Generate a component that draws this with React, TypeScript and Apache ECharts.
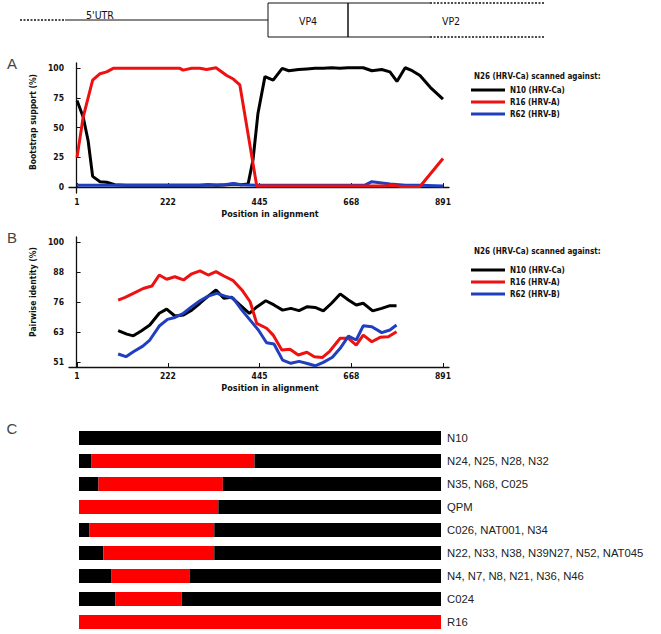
import React, { useEffect, useRef } from "react";
import * as echarts from "echarts";

const xTicks = [1, 222, 445, 668, 891];
const bootTicks = [0, 25, 50, 75, 100];
const identTicks = [51, 63.25, 75.5, 87.75, 100];

const seriesNames = ["N10 (HRV-Ca)", "R16 (HRV-A)", "R62 (HRV-B)"];
const seriesColors = ["#000000", "#ee1111", "#1f3fbf"];
const legendHeader = "N26 (HRV-Ca) scanned against:";

const bootN10 = [[1,73],[16,59],[28,39],[39,9],[57,4.5],[73,4],[93,2],[120,1.5],[300,1.5],[320,2],[340,1.5],[366,2],[381,2.5],[400,2],[417,2.5],[429,23],[441,62],[458,93],[478,90],[500,100],[516,98],[540,99],[560,99.5],[580,100],[600,100],[620,100.5],[640,100],[660,100.5],[697,100.5],[718,98],[742,99],[762,97],[779,89],[799,100.5],[816,98],[835,94],[860,84],[891,74]];
const bootR16 = [[1,25],[16,59],[39,90],[57,95.5],[73,97],[89,100],[150,100],[251,100],[259,98.5],[280,100],[300,100],[316,99],[339,100.5],[365,94],[381,91],[397,86],[438,1],[600,1],[750,1],[770,1.5],[790,0.5],[835,0.5],[891,24]];
const bootR62 = [[1,1.5],[100,1.5],[200,1.5],[300,1.5],[360,2],[381,3],[400,2],[438,1.5],[600,1.5],[700,1.5],[718,4.5],[742,3.5],[762,2.5],[800,1.5],[835,1.5],[891,1]];

const identN10 = [[101,63.8],[122,62.4],[138,61.7],[158,63.8],[178,66.1],[201,70.9],[219,72.6],[239,69.8],[260,70.2],[280,72.2],[300,75],[320,77.9],[339,80.4],[358,77],[377,77.4],[397,74.3],[420,70.9],[439,73.6],[460,76],[480,74.3],[501,72.2],[521,72.9],[541,72],[561,73.6],[580,73.3],[600,71.9],[620,75],[641,78.8],[661,76.3],[680,74.3],[697,75],[720,71.9],[742,72.9],[762,74],[778,74]];
const identR16 = [[101,76.3],[118,77.4],[138,79],[162,81],[183,82],[201,86.5],[219,84.8],[239,85.8],[260,84.5],[280,87],[300,88.2],[320,86.5],[339,87.9],[357,86.2],[381,84.2],[402,80.4],[422,75.6],[438,66.8],[462,64.8],[478,62],[499,55.9],[519,56.2],[539,53.9],[560,55],[578,53.2],[598,52.9],[616,55.5],[641,60.7],[661,60.7],[680,57.9],[697,62],[718,59.3],[738,61.1],[758,61.3],[778,63.4]];
const identR62 = [[101,54.3],[120,53.2],[138,55.2],[161,57.5],[178,60],[201,65.7],[221,68.4],[239,69.2],[260,70.9],[280,73.6],[300,76],[320,77.9],[341,79],[361,77.9],[381,77],[402,72.2],[422,68.1],[442,64.1],[462,58.9],[480,58.4],[501,51.8],[521,50.5],[541,51.3],[561,50.4],[580,49.5],[600,50.9],[622,53],[641,56.6],[661,61.6],[680,60],[697,65.8],[718,65.4],[742,63],[762,64.1],[778,66.1]];

const recombNames = ["N10", "N24, N25, N28, N32", "N35, N68, C025", "QPM", "C026, NAT001, N34", "N22, N33, N38, N39N27, N52, NAT045", "N4, N7, N8, N21, N36, N46", "C024", "R16"];
const redFrom = [0, 31, 48, 0, 25, 60, 79, 90, 0];
const redTo = [0, 432, 354, 343, 333, 333, 272, 253, 891];
const alignLength = 891;

const NARROW = "'Liberation Sans Narrow', 'DejaVu Sans Condensed', Arial, sans-serif";
const SANS = "'Liberation Sans', Arial, sans-serif";

function lineSeries(name: string, color: string, data: number[][], idx: number, z: number) {
  return {
    type: "line",
    name,
    data,
    xAxisIndex: idx,
    yAxisIndex: idx,
    symbol: "none",
    z,
    lineStyle: { color, width: 3 },
    itemStyle: { color },
  };
}

function valueXAxis(idx: number) {
  return {
    type: "value",
    gridIndex: idx,
    min: -18.5,
    max: 905.6,
    axisLine: { show: true, lineStyle: { color: "#111", width: 1.3 } },
    axisTick: { show: true, inside: true, length: 4, customValues: xTicks, lineStyle: { color: "#111" } },
    axisLabel: {
      customValues: xTicks,
      formatter: (v: number) => String(Math.round(v)),
      fontSize: 8.5,
      fontWeight: "bold",
      fontFamily: NARROW,
      color: "#111",
      margin: 4,
    },
    splitLine: { show: false },
    name: "Position in alignment",
    nameLocation: "middle",
    nameGap: 16,
    nameTextStyle: { fontSize: 9, fontWeight: "bold", fontFamily: NARROW, color: "#111", padding: [0, 0, 0, 22] },
  };
}

function valueYAxis(idx: number, min: number, max: number, ticks: number[], name: string, shift: number) {
  return {
    type: "value",
    gridIndex: idx,
    min,
    max,
    axisLine: { show: true, lineStyle: { color: "#111", width: 1.3 } },
    axisTick: { show: true, inside: true, length: 4, customValues: ticks, lineStyle: { color: "#111" } },
    axisLabel: {
      customValues: ticks,
      formatter: (v: number) => String(Math.round(v)),
      fontSize: 8.5,
      fontWeight: "bold",
      fontFamily: NARROW,
      color: "#111",
      margin: 5,
    },
    splitLine: { show: false },
    name,
    nameLocation: "middle",
    nameGap: 22,
    nameTextStyle: { fontSize: 8.5, fontWeight: "bold", fontFamily: NARROW, color: "#111", padding: [0, 0, 0, shift] },
  };
}

function legendAt(top: number) {
  return {
    data: seriesNames,
    orient: "vertical",
    left: 471,
    top,
    padding: 0,
    itemGap: 2,
    itemWidth: 34,
    itemHeight: 3,
    icon: "rect",
    selectedMode: false,
    textStyle: { fontSize: 8, fontWeight: "bold", fontFamily: NARROW, color: "#111", lineHeight: 10 },
  };
}

function text(x: number, y: number, t: string, style: any) {
  return { type: "text", x, y, style: { text: t, fill: "#111", ...style } };
}

export default function App() {
  const ref = useRef<HTMLDivElement>(null);
  useEffect(() => {
    if (!ref.current) return;
    const chart = echarts.init(ref.current, null, { renderer: "svg" });
    const lead = redFrom.map((f) => f);
    const red = redTo.map((t, i) => t - redFrom[i]);
    const tail = redTo.map((t) => alignLength - t);
    const dotted = { stroke: "#111", lineWidth: 1.6, lineDash: [2, 1.5] };
    const solid = { stroke: "#111", lineWidth: 1 };
    const option: any = {
      animation: false,
      backgroundColor: "#ffffff",
      grid: [
        { left: 69, top: 63, width: 380, height: 130 },
        { left: 69, top: 237, width: 380, height: 130 },
        { left: 79, top: 426.5, width: 362, height: 207 },
      ],
      xAxis: [
        valueXAxis(0),
        valueXAxis(1),
        { type: "value", gridIndex: 2, min: 0, max: alignLength, show: false },
      ],
      yAxis: [
        valueYAxis(0, -5, 104.5, bootTicks, "Bootstrap support (%)", 12),
        valueYAxis(1, 49, 102, identTicks, "Pairwise identity (%)", 20),
        {
          type: "category",
          gridIndex: 2,
          data: recombNames,
          inverse: true,
          position: "right",
          axisLine: { show: false },
          axisTick: { show: false },
          axisLabel: { fontSize: 11.3, fontFamily: SANS, color: "#222", margin: 6 },
        },
      ],
      legend: [legendAt(85), legendAt(265)],
      series: [
        lineSeries(seriesNames[0], seriesColors[0], bootN10, 0, 2),
        lineSeries(seriesNames[1], seriesColors[1], bootR16, 0, 4),
        lineSeries(seriesNames[2], seriesColors[2], bootR62, 0, 3),
        lineSeries(seriesNames[0], seriesColors[0], identN10, 1, 2),
        lineSeries(seriesNames[1], seriesColors[1], identR16, 1, 3),
        lineSeries(seriesNames[2], seriesColors[2], identR62, 1, 4),
        { type: "bar", stack: "c", xAxisIndex: 2, yAxisIndex: 2, barWidth: 14, data: lead, itemStyle: { color: "#000" } },
        { type: "bar", stack: "c", xAxisIndex: 2, yAxisIndex: 2, barWidth: 14, data: red, itemStyle: { color: "#ff0000" } },
        { type: "bar", stack: "c", xAxisIndex: 2, yAxisIndex: 2, barWidth: 14, data: tail, itemStyle: { color: "#000" } },
      ],
      graphic: [
        { type: "line", shape: { x1: 20, y1: 20, x2: 65, y2: 20 }, style: dotted },
        { type: "line", shape: { x1: 65, y1: 20, x2: 268, y2: 20 }, style: solid },
        { type: "rect", shape: { x: 268, y: 3, width: 80, height: 34 }, style: { fill: "none", ...solid } },
        { type: "polyline", shape: { points: [[430, 3], [348, 3], [348, 37], [430, 37]] }, style: { fill: "none", ...solid } },
        { type: "line", shape: { x1: 430, y1: 3, x2: 545, y2: 3 }, style: dotted },
        { type: "line", shape: { x1: 430, y1: 37, x2: 545, y2: 37 }, style: dotted },
        text(100, 15, "5'UTR", { fontSize: 10.5, fontFamily: NARROW, align: "center", verticalAlign: "middle" }),
        text(308, 21, "VP4", { fontSize: 10.5, fontFamily: NARROW, align: "center", verticalAlign: "middle" }),
        text(451, 21, "VP2", { fontSize: 10.5, fontFamily: NARROW, align: "center", verticalAlign: "middle" }),
        text(12, 63, "A", { fontSize: 15, fontFamily: SANS, fill: "#444", align: "center", verticalAlign: "middle" }),
        text(12, 237, "B", { fontSize: 15, fontFamily: SANS, fill: "#444", align: "center", verticalAlign: "middle" }),
        text(12, 428, "C", { fontSize: 15, fontFamily: SANS, fill: "#444", align: "center", verticalAlign: "middle" }),
        text(474, 76, legendHeader, { fontSize: 8, fontWeight: "bold", fontFamily: NARROW, verticalAlign: "middle" }),
        text(474, 251, legendHeader, { fontSize: 8, fontWeight: "bold", fontFamily: NARROW, verticalAlign: "middle" }),
      ],
    };
    chart.setOption(option);
    return () => chart.dispose();
  }, []);
  return <div ref={ref} style={{ position: "absolute", left: 0, top: 0, width: 661, height: 634 }} />;
}
